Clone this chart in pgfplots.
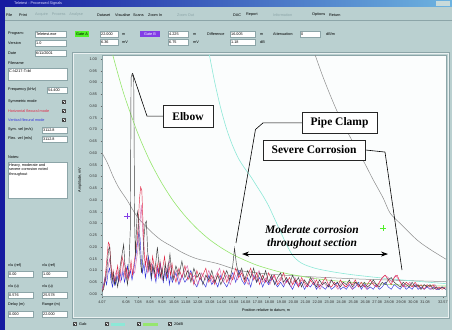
\documentclass[border=0pt]{standalone}
\usepackage{fontspec}
\setmainfont{Liberation Sans}
\newfontfamily\serifb{Liberation Serif}
\usepackage{pgfplots}
\pgfplotsset{compat=1.18}
\usepackage{pgfplotstable}
\usetikzlibrary{arrows.meta}

\definecolor{winblue}{RGB}{22,26,160}
\definecolor{panel}{RGB}{186,208,208}
\definecolor{panelD}{RGB}{140,165,168}
\definecolor{plotbg}{RGB}{251,253,253}
\definecolor{symc}{RGB}{60,60,60}
\definecolor{redc}{RGB}{225,40,70}
\definecolor{bluec}{RGB}{50,50,220}
\definecolor{pinkc}{RGB}{215,110,175}
\definecolor{dacgreen}{RGB}{150,230,110}
\definecolor{daccyan}{RGB}{140,232,215}
\definecolor{dacgray}{RGB}{140,140,140}
\definecolor{gateg}{RGB}{80,240,40}
\definecolor{gatep}{RGB}{130,60,230}

\newcommand\gf{\fontsize{3.8}{4.3}\selectfont}
\newcommand\lbl[3]{\node[anchor=west,inner sep=0pt,font=\gf] at (#1,#2) {#3};}
\newcommand\wbox[5]{\fill[white] (#1,#2) rectangle (#3,#4);\draw[panelD,line width=0.3pt] (#1,#2) rectangle (#3,#4);\node[anchor=west,inner sep=0pt,font=\gf] at ($(#1,#2)!0.5!(#1,#4)+(1,0)$) {#5};}
\newcommand\chk[2]{\draw[black!70,line width=0.25pt,fill=white] (#1,#2) rectangle +(3,3);\draw[black,line width=0.35pt] ($(#1,#2)+(0.6,1.6)$) -- ($(#1,#2)+(1.3,0.7)$) -- ($(#1,#2)+(2.5,2.5)$);}
\usetikzlibrary{calc}

\pgfplotstableread{
x y
4.07 0.01
4.20 0.02
4.35 0.06
4.50 0.12
4.62 0.19
4.72 0.20
4.82 0.11
4.92 0.05
5.02 0.09
5.12 0.04
5.25 0.07
5.38 0.03
5.50 0.08
5.62 0.13
5.75 0.17
5.88 0.21
5.98 0.13
6.08 0.08
6.20 0.04
6.32 0.12
6.44 0.28
6.50 0.92
6.58 0.935
6.72 0.92
6.80 0.30
6.86 0.16
6.94 0.26
7.02 0.35
7.10 0.33
7.18 0.22
7.28 0.14
7.38 0.09
7.48 0.15
7.58 0.24
7.68 0.30
7.78 0.31
7.88 0.19
7.98 0.10
8.08 0.14
8.20 0.07
8.32 0.12
8.45 0.09
8.58 0.14
8.70 0.20
8.82 0.13
8.95 0.07
9.08 0.11
9.22 0.06
9.35 0.13
9.48 0.08
9.62 0.12
9.75 0.17
9.88 0.10
10.00 0.06
10.25 0.12
10.50 0.08
10.75 0.14
11.00 0.07
11.25 0.10
11.50 0.05
11.75 0.11
12.00 0.07
12.25 0.09
12.50 0.04
12.75 0.08
13.00 0.06
13.25 0.10
13.50 0.05
13.75 0.08
14.00 0.04
14.25 0.07
14.50 0.10
14.75 0.06
15.00 0.12
15.15 0.195
15.30 0.13
15.50 0.08
15.75 0.11
16.00 0.06
16.25 0.10
16.50 0.07
16.75 0.11
17.00 0.05
17.25 0.09
17.50 0.06
17.75 0.10
18.00 0.05
18.25 0.08
18.50 0.04
18.75 0.07
19.00 0.09
19.25 0.05
19.50 0.07
19.75 0.04
20.00 0.08
20.25 0.05
20.50 0.07
20.75 0.03
21.00 0.06
21.25 0.04
21.50 0.07
21.75 0.05
22.00 0.03
22.25 0.06
22.50 0.04
22.75 0.05
23.00 0.03
23.25 0.06
23.50 0.04
23.75 0.05
24.00 0.03
24.25 0.05
24.50 0.04
24.75 0.06
25.00 0.03
25.25 0.05
25.50 0.04
25.75 0.03
26.00 0.05
26.25 0.03
26.50 0.04
26.75 0.06
27.00 0.04
27.25 0.03
27.50 0.05
27.75 0.04
28.00 0.06
28.25 0.07
28.50 0.05
28.75 0.04
29.00 0.03
29.25 0.05
29.50 0.04
29.75 0.03
30.00 0.05
30.25 0.03
30.50 0.04
30.75 0.02
31.00 0.04
31.25 0.03
31.50 0.04
31.75 0.02
32.00 0.03
32.25 0.02
32.50 0.03
32.80 0.02
}\symtab

\pgfplotstableread{
x y
4.07 0.01
4.20 0.03
4.35 0.08
4.48 0.15
4.60 0.22
4.70 0.21
4.80 0.14
4.90 0.07
5.00 0.10
5.12 0.05
5.25 0.08
5.38 0.12
5.50 0.06
5.62 0.10
5.75 0.16
5.88 0.12
6.00 0.07
6.12 0.11
6.25 0.06
6.38 0.09
6.50 0.14
6.62 0.08
6.75 0.13
6.88 0.18
7.00 0.22
7.10 0.30
7.20 0.40
7.30 0.455
7.40 0.44
7.50 0.30
7.60 0.18
7.70 0.12
7.80 0.16
7.92 0.10
8.05 0.14
8.18 0.09
8.30 0.16
8.42 0.12
8.55 0.07
8.68 0.13
8.80 0.09
8.92 0.14
9.05 0.08
9.18 0.12
9.30 0.16
9.42 0.10
9.55 0.07
9.68 0.12
9.80 0.08
9.92 0.13
10.05 0.09
10.25 0.05
10.50 0.11
10.75 0.07
11.00 0.12
11.25 0.06
11.50 0.09
11.75 0.04
12.00 0.10
12.25 0.06
12.50 0.08
12.75 0.11
13.00 0.05
13.25 0.08
13.50 0.04
13.75 0.09
14.00 0.06
14.25 0.10
14.50 0.05
14.75 0.08
15.00 0.06
15.25 0.11
15.50 0.07
15.75 0.09
16.00 0.05
16.25 0.08
16.50 0.11
16.75 0.06
17.00 0.09
17.25 0.04
17.50 0.08
17.75 0.05
18.00 0.09
18.25 0.06
18.50 0.08
18.75 0.04
19.00 0.06
19.25 0.09
19.50 0.05
19.75 0.07
20.00 0.04
20.25 0.06
20.50 0.03
20.75 0.07
21.00 0.05
21.25 0.03
21.50 0.06
21.75 0.04
22.00 0.06
22.25 0.03
22.50 0.05
22.75 0.07
23.00 0.04
23.25 0.03
23.50 0.05
23.75 0.03
24.00 0.06
24.25 0.04
24.50 0.03
24.75 0.05
25.00 0.04
25.25 0.06
25.50 0.03
25.75 0.05
26.00 0.03
26.25 0.04
26.50 0.06
26.75 0.04
27.00 0.03
27.25 0.05
27.50 0.07
27.75 0.08
28.00 0.06
28.25 0.04
28.50 0.07
28.75 0.08
29.00 0.05
29.25 0.03
29.50 0.05
29.75 0.04
30.00 0.03
30.25 0.05
30.50 0.03
30.75 0.04
31.00 0.02
31.25 0.04
31.50 0.03
31.75 0.04
32.00 0.02
32.25 0.03
32.50 0.02
32.80 0.03
}\redtab

\pgfplotstableread{
x y
4.07 0.02
4.20 0.04
4.32 0.07
4.45 0.04
4.58 0.09
4.70 0.11
4.82 0.06
4.95 0.03
5.08 0.07
5.20 0.04
5.32 0.08
5.45 0.05
5.58 0.09
5.70 0.06
5.82 0.10
5.95 0.05
6.08 0.08
6.20 0.12
6.32 0.07
6.45 0.10
6.58 0.06
6.70 0.09
6.82 0.14
6.95 0.18
7.05 0.22
7.15 0.26
7.25 0.24
7.35 0.15
7.45 0.09
7.58 0.13
7.70 0.07
7.82 0.11
7.95 0.16
8.08 0.10
8.20 0.06
8.32 0.12
8.45 0.08
8.58 0.05
8.70 0.11
8.82 0.07
8.95 0.13
9.08 0.08
9.20 0.05
9.32 0.10
9.45 0.06
9.58 0.11
9.70 0.04
9.82 0.08
9.95 0.05
10.25 0.09
10.50 0.04
10.75 0.08
11.00 0.05
11.25 0.07
11.50 0.10
11.75 0.05
12.00 0.03
12.25 0.07
12.50 0.05
12.75 0.03
13.00 0.08
13.25 0.04
13.50 0.06
13.75 0.03
14.00 0.08
14.25 0.05
14.50 0.03
14.75 0.06
15.00 0.09
15.25 0.05
15.50 0.10
15.75 0.06
16.00 0.04
16.25 0.07
16.50 0.03
16.75 0.08
17.00 0.05
17.25 0.07
17.50 0.03
17.75 0.06
18.00 0.04
18.25 0.07
18.50 0.05
18.75 0.03
19.00 0.05
19.25 0.03
19.50 0.06
19.75 0.04
20.00 0.02
20.25 0.05
20.50 0.03
20.75 0.05
21.00 0.02
21.25 0.04
21.50 0.03
21.75 0.05
22.00 0.02
22.25 0.04
22.50 0.03
22.75 0.02
23.00 0.04
23.25 0.02
23.50 0.03
23.75 0.05
24.00 0.02
24.25 0.03
24.50 0.02
24.75 0.04
25.00 0.02
25.25 0.03
25.50 0.05
25.75 0.02
26.00 0.04
26.25 0.02
26.50 0.03
26.75 0.02
27.00 0.04
27.25 0.02
27.50 0.03
27.75 0.05
28.00 0.03
28.25 0.02
28.50 0.04
28.75 0.03
29.00 0.02
29.25 0.04
29.50 0.02
29.75 0.03
30.00 0.02
30.25 0.04
30.50 0.02
30.75 0.03
31.00 0.02
31.25 0.03
31.50 0.02
31.75 0.03
32.00 0.02
32.25 0.02
32.50 0.03
32.80 0.02
}\bluetab

\pgfplotstableread{
x y
4.07 0.02
4.40 0.06
4.70 0.15
5.00 0.06
5.30 0.10
5.60 0.05
5.90 0.14
6.20 0.07
6.50 0.11
6.80 0.09
7.10 0.20
7.35 0.38
7.60 0.15
7.90 0.09
8.20 0.13
8.50 0.07
8.80 0.11
9.10 0.06
9.40 0.10
9.70 0.14
10.00 0.07
10.30 0.10
10.60 0.05
10.90 0.09
11.20 0.12
11.50 0.06
11.80 0.08
12.10 0.04
12.40 0.09
12.70 0.06
13.00 0.10
13.30 0.05
13.60 0.08
13.90 0.11
14.20 0.05
14.50 0.08
14.80 0.04
15.10 0.09
15.40 0.06
15.70 0.10
16.00 0.07
16.30 0.04
16.60 0.09
16.90 0.06
17.20 0.10
17.50 0.05
17.80 0.07
18.10 0.04
18.40 0.08
18.70 0.05
19.00 0.07
19.30 0.04
19.60 0.06
19.90 0.03
20.20 0.07
20.50 0.04
20.80 0.06
21.10 0.03
21.40 0.05
21.70 0.07
22.00 0.04
22.30 0.02
22.60 0.05
22.90 0.03
23.20 0.06
23.50 0.04
23.80 0.02
24.10 0.05
24.40 0.03
24.70 0.04
25.00 0.02
25.30 0.05
25.60 0.03
25.90 0.04
26.20 0.02
26.50 0.04
26.80 0.05
27.10 0.03
27.40 0.06
27.70 0.08
28.00 0.07
28.30 0.05
28.60 0.08
28.90 0.06
29.20 0.04
29.50 0.03
29.80 0.05
30.10 0.03
30.40 0.04
30.70 0.02
31.00 0.04
31.30 0.03
31.60 0.02
31.90 0.04
32.20 0.02
32.50 0.03
32.80 0.02
}\pinktab

\begin{document}
\begin{tikzpicture}[x=1pt,y=1pt]
\path[use as bounding box] (0,0) rectangle (452,330);
\fill[winblue] (0,0) rectangle (452,330);
\shade[left color=winblue, right color=winblue!55!cyan!60!white] (5,323) rectangle (452,330);
\node[anchor=west,inner sep=0pt,font=\gf,text=white!85!blue] at (14,326.5) {Teletest - Processed Signals};
\fill[panel!80!white] (436,324) rectangle (450,329);
\fill[panel] (5,0) rectangle (452,323);
% menu
\lbl{6}{315}{File}\lbl{19}{315}{Print}
\node[anchor=west,inner sep=0pt,font=\gf,text=panelD] at (35,315) {Acquire\quad Process\quad Analyse};
\lbl{97}{315}{Dataset}\lbl{115}{315}{Visualise}\lbl{133}{315}{Scans}\lbl{148}{315}{Zoom In}
\node[anchor=west,inner sep=0pt,font=\gf,text=panelD] at (177,315) {Zoom Out};
\lbl{233}{315}{DAC}\lbl{246}{315}{Report}
\node[anchor=west,inner sep=0pt,font=\gf,text=panelD] at (273,315) {Information};
\lbl{312}{315}{Options}\lbl{329}{315}{Return}
\draw[panelD,line width=0.3pt] (5,310) -- (452,310);
% left panel
\lbl{8}{296}{Program:}\wbox{35}{293}{66}{299}{Teletest.exe}
\lbl{8}{287}{Version}\wbox{35}{284}{66}{290}{1.0}
\lbl{8}{277}{Date}\wbox{35}{274}{66}{280}{6/11/2001}
\lbl{8}{267}{Filename}
\fill[white] (8,250) rectangle (67,262);\draw[panelD,line width=0.3pt] (8,250) rectangle (67,262);
\node[anchor=west,inner sep=0pt,font=\gf] at (9,259) {C:\textbackslash 4217-T.tbl};
\lbl{8}{240}{Frequency (kHz)}\wbox{47}{237}{67}{243}{54.400}
\lbl{8}{228}{Symmetric mode}\chk{62}{226.5}
\node[anchor=west,inner sep=0pt,font=\gf,text=redc] at (8,219) {Horizontal flexural mode};\chk{62}{217.5}
\node[anchor=west,inner sep=0pt,font=\gf,text=bluec] at (8,210) {Vertical flexural mode};\chk{62}{208.5}
\lbl{8}{200}{Sym. vel (m/s)}\wbox{42}{197}{67}{203}{3112.8}
\lbl{8}{191}{Flex. vel (m/s)}\wbox{42}{188}{67}{194}{3112.8}
\lbl{8}{173}{Notes:}
\fill[white] (8,132) rectangle (67,168);\draw[panelD,line width=0.3pt] (8,132) rectangle (67,168);
\node[anchor=north west,inner sep=0pt,font=\gf,align=left] at (9,166.5) {Heavy, moderate and\\severe corrosion noted\\throughout};
\lbl{8}{64}{v/u (ref)}\lbl{42}{64}{v/u (ref)}
\wbox{8}{53}{33}{59}{0.00}\wbox{42}{53}{67}{59}{1.00}
\lbl{8}{43}{v/u (u)}\lbl{42}{43}{v/u (u)}
\wbox{8}{32}{33}{38}{0.576}\wbox{42}{32}{67}{38}{25.578}
\lbl{8}{25}{Delay (m)}\lbl{42}{25}{Range (m)}
\wbox{8}{13}{33}{19}{0.000}\wbox{42}{13}{67}{19}{22.000}
% top controls
\fill[gateg] (75,293) rectangle (89,299);\node[font=\gf,inner sep=0pt] at (82,296) {Gate A};
\wbox{100}{293}{118}{299}{22.000}\lbl{122}{296}{m}
\wbox{100}{285}{118}{291}{6.36}\lbl{122}{288}{mV}
\fill[gatep] (140,293) rectangle (160,299);\node[font=\gf,inner sep=0pt,text=white] at (150,296) {Gate B};
\wbox{168}{293}{188}{299}{4.225}\lbl{193}{296}{m}
\wbox{168}{285}{188}{291}{6.75}\lbl{193}{288}{mV}
\lbl{207}{296}{Difference}\wbox{230}{293}{255}{299}{16.005}\lbl{260}{296}{m}
\wbox{230}{285}{255}{291}{1.18}\lbl{260}{288}{dB}
\lbl{273}{296}{Attenuation:}\wbox{300}{293}{320}{299}{0}\lbl{326}{296}{dB/m}
% plot frame
\draw[panelD,line width=0.4pt] (72,12) rectangle (449,278);
\draw[white!70!panel,line width=0.4pt] (73,13) rectangle (448,277);
% bottom legend
\chk{73}{4.5}\lbl{79}{6}{Gab}
\chk{105}{4.5}\fill[daccyan] (111,4.5) rectangle (125,7.5);
\chk{137}{4.5}\fill[dacgreen] (143,4.5) rectangle (158,7.5);
\chk{168}{4.5}\lbl{174}{6}{20dB}
% labels
\node[font=\gf,inner sep=0pt] at (266,20) {Position relative to datum, m};
\node[font=\gf,inner sep=0pt,rotate=90] at (80,150) {Amplitude, mV};

\begin{axis}[
  at={(102pt,34pt)}, anchor=south west,
  width=344pt, height=241pt, scale only axis,
  xmin=4.07, xmax=32.83, ymin=-0.0085, ymax=1.017,
  axis background/.style={fill=plotbg},
  axis line style={panelD, line width=0.3pt},
  /pgf/number format/assume math mode=true,
  xtick={4.07,6.08,7.08,...,31.08,32.57},
  ytick={0,0.05,...,1.001},
  tick align=outside, major tick length=1.5pt,
  every tick/.style={black!60, line width=0.25pt},
  xtick pos=bottom, ytick pos=left,
  xticklabel style={font=\gf, text=black!80, /pgf/number format/.cd, fixed, fixed zerofill, precision=2},
  yticklabel style={font=\gf, text=black!80, /pgf/number format/.cd, fixed, fixed zerofill, precision=2},
  clip mode=individual,
]
\addplot[dacgray, line width=0.5pt, smooth] coordinates {(4.07,0.60) (4.5,0.56) (5.0,0.50) (5.5,0.45) (6.16,0.40) (7.0,0.33) (8.08,0.27) (9.0,0.23) (10.0,0.20) (10.84,0.175) (12.0,0.15) (13.69,0.13) (15.61,0.10) (18,0.085) (21,0.075) (25,0.065) (29,0.058) (32.83,0.053)};
\addplot[dacgreen, line width=0.6pt, smooth] coordinates {(4.9,1.03) (5.5,0.919) (6,0.835) (7,0.692) (8,0.574) (9,0.478) (10,0.398) (11,0.333) (12,0.279) (13,0.234) (14,0.198) (15,0.168) (16,0.144) (17,0.123) (18,0.107) (19,0.093) (20,0.082) (22,0.065) (24,0.054) (26,0.046) (28,0.041) (30,0.037) (32.83,0.034)};
\addplot[daccyan, line width=0.6pt, smooth] coordinates {(13.0,1.03) (13.5,0.90) (14.0,0.79) (14.5,0.70) (15.0,0.63) (15.5,0.575) (16.0,0.535) (16.5,0.50) (17.0,0.46) (17.5,0.42) (18.0,0.375) (18.5,0.32) (19.0,0.265) (19.5,0.21) (20.0,0.165) (20.5,0.14) (21.0,0.125) (22.0,0.108) (23.4,0.094) (25.0,0.082) (27.5,0.068) (30.0,0.056) (32.83,0.044)};
\addplot[dacgray, line width=0.5pt, smooth] coordinates {(21.8,1.03) (22.5,0.93) (23.2,0.84) (23.97,0.75) (24.9,0.66) (25.89,0.57) (26.7,0.49) (27.56,0.41) (28.15,0.345) (29.0,0.30) (30.41,0.23) (31.5,0.19) (32.83,0.148)};
\addplot[bluec, line width=0.45pt] table {\bluetab};
\addplot[pinkc, line width=0.45pt] table {\pinktab};
\addplot[redc, line width=0.45pt] table {\redtab};
\addplot[symc, line width=0.45pt] table {\symtab};
\addplot[gatep, only marks, mark=+, mark size=3pt, line width=0.4pt] coordinates {(6.16,0.33)};
\addplot[gateg, only marks, mark=+, mark size=3pt, line width=0.4pt] coordinates {(27.56,0.28)};
% annotations
\draw[black, line width=0.6pt] (axis cs:9.17,0.757) -- (axis cs:7.83,0.757) -- (axis cs:6.62,0.94);
\node[draw=black!85, line width=0.8pt, fill=white, minimum width=50pt, minimum height=22pt, inner sep=0pt, font=\serifb\bfseries\fontsize{11.5}{12}\selectfont] at (axis cs:11.26,0.757) {Elbow};
\draw[black, line width=0.6pt] (axis cs:20.79,0.728) -- (axis cs:17.53,0.728) -- (axis cs:16.9,0.70) -- (axis cs:15.27,0.217);
\node[draw=black!85, line width=0.8pt, fill=white, minimum width=75pt, minimum height=21pt, inner sep=1pt, font=\serifb\bfseries\fontsize{11.5}{12}\selectfont] at (axis cs:23.93,0.73) {Pipe Clamp};
\draw[black, line width=0.6pt] (axis cs:26.06,0.613) -- (axis cs:27.73,0.604) -- (axis cs:29.15,0.102);
\node[draw=black!85, line width=0.8pt, fill=white, minimum width=102pt, minimum height=20pt, inner sep=1pt, font=\serifb\bfseries\fontsize{11.5}{12}\selectfont] at (axis cs:21.80,0.613) {Severe Corrosion};
\draw[black, line width=0.7pt, {Stealth[length=7pt,width=5pt]}-{Stealth[length=7pt,width=5pt]}] (axis cs:15.78,0.170) -- (axis cs:27.98,0.170);
\node[align=center, inner sep=0pt, font=\serifb\bfseries\itshape\fontsize{11.5}{13}\selectfont] at (axis cs:21.63,0.243) {Moderate corrosion\\throughout section};
\end{axis}
\end{tikzpicture}
\end{document}
